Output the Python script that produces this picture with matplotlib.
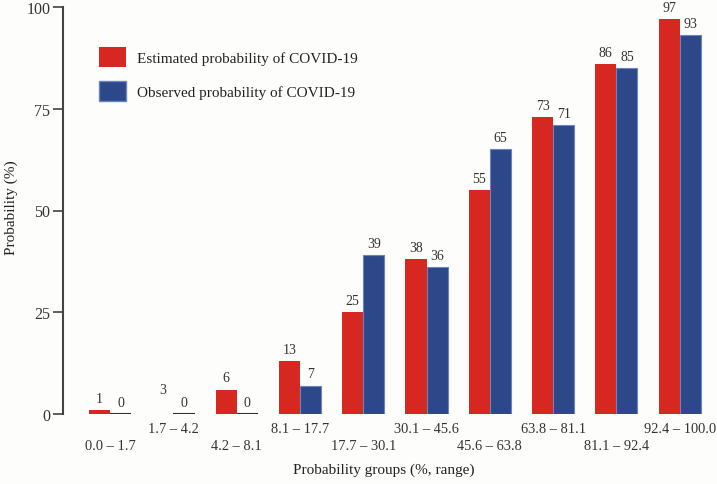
import numpy as np
import matplotlib
matplotlib.use("Agg")
import matplotlib.pyplot as plt
from matplotlib.patches import Patch
from matplotlib.transforms import blended_transform_factory

plt.rcParams['font.family'] = ['Liberation Serif', 'DejaVu Serif']

# data
groups = ['0.0 – 1.7', '1.7 – 4.2', '4.2 – 8.1', '8.1 – 17.7', '17.7 – 30.1',
          '30.1 – 45.6', '45.6 – 63.8', '63.8 – 81.1', '81.1 – 92.4', '92.4 – 100.0']
estimated = [1, 3, 6, 13, 25, 38, 55, 73, 86, 97]
observed = [0, 0, 0, 7, 39, 36, 65, 71, 85, 93]
yticks = [0, 25, 50, 75, 100]

red = '#D62820'
blue = '#2D4889'
blue_edge = '#6A84BC'
grey = '#444444'

fig = plt.figure(figsize=(7.17, 4.85), dpi=100)
fig.patch.set_facecolor('#FDFDFB')
ax = fig.add_axes([63 / 717, 70 / 485, 642 / 717, 407 / 485])
ax.set_facecolor('none')

x = np.arange(len(groups))
w = 1 / 3

# the 3% estimated bar is not drawn in the original figure
red_colors = [red if i != 1 else 'none' for i in range(len(groups))]
ax.bar(x - w / 2, estimated, width=w, color=red_colors, edgecolor='none')
blue_edges = ['#333333' if v == 0 else blue_edge for v in observed]
ax.bar(x + w / 2, observed, width=w, color=blue, edgecolor=blue_edges,
       linewidth=[1.5 if v == 0 else 0.8 for v in observed])

for i in range(len(groups)):
    ax.annotate(str(estimated[i]), (x[i] - w / 2, estimated[i]), xytext=(0, 8.5),
                textcoords='offset points', ha='center', va='center',
                fontsize=10, color='#333333')
    ax.annotate(str(observed[i]), (x[i] + w / 2, observed[i]), xytext=(0, 8.5),
                textcoords='offset points', ha='center', va='center',
                fontsize=10, color='#333333')

ax.set_xlim(-0.745, 9.4)
ax.set_ylim(0, 100)
ax.set_yticks(yticks)
ax.set_xticks([])
for s in ['top', 'right', 'bottom']:
    ax.spines[s].set_visible(False)
ax.spines['left'].set_color(grey)
ax.spines['left'].set_linewidth(1.5)
ax.tick_params(axis='y', direction='out', length=7, width=1.2, color=grey,
               labelsize=11.5, labelcolor='#333333', pad=2)

# staggered group labels
trans = blended_transform_factory(ax.transData, ax.transAxes)
for i, g in enumerate(groups):
    yy = -32 / 407 if i % 2 == 0 else -15 / 407
    ax.text(x[i], yy, g, transform=trans, ha='center', va='center',
            fontsize=10.4, color='#333333')

fig.text(11 / 717, 1 - 208 / 485, 'Probability (%)', rotation=90,
         ha='center', va='center', fontsize=11, color='#222222')
fig.text(384 / 717, 1 - 470 / 485, 'Probability groups (%, range)',
         ha='center', va='center', fontsize=11, color='#222222')

handles = [Patch(facecolor=red, edgecolor='none', label='Estimated probability of COVID-19'),
           Patch(facecolor=blue, edgecolor=blue_edge, label='Observed probability of COVID-19')]
ax.legend(handles=handles, loc='upper left', bbox_to_anchor=(0.035, 0.935), frameon=False,
          fontsize=11, handlelength=1.75, handleheight=1.6, labelspacing=0.95,
          handletextpad=0.75, labelcolor='#222222')

plt.savefig('out.png', dpi=100, facecolor=fig.get_facecolor())
